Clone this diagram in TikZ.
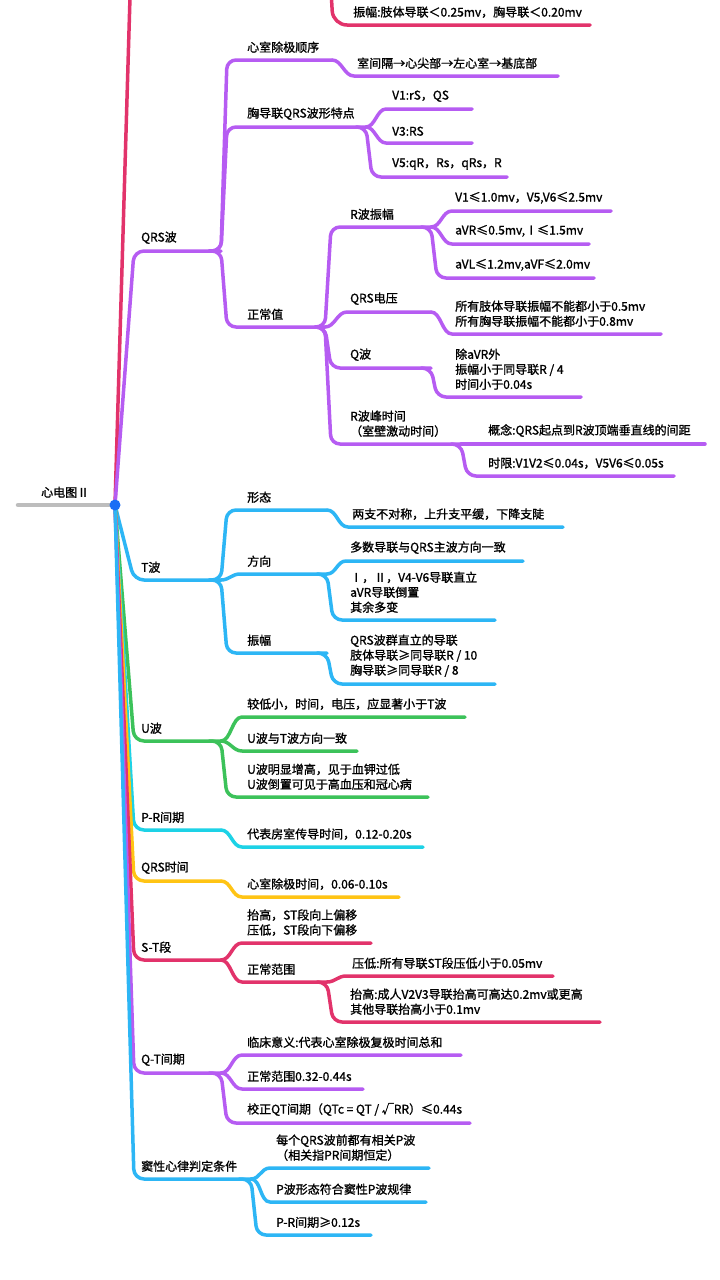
\documentclass[tikz,border=0pt]{standalone}
\usepackage{fontspec}
\newfontfamily\cjk{Noto Sans CJK SC}[FakeBold=1.2]
\usetikzlibrary{calc}
\definecolor{cR}{HTML}{E2336B}
\definecolor{cP}{HTML}{B65CF2}
\definecolor{cB}{HTML}{2DB6F5}
\definecolor{cG}{HTML}{3CC25A}
\definecolor{cC}{HTML}{1DD2E6}
\definecolor{cY}{HTML}{FFC414}
\definecolor{cGray}{HTML}{BDBDBD}
\definecolor{cDot}{HTML}{1A6EF5}
\begin{document}
\begin{tikzpicture}[x=1pt,y=-1pt,
  ln/.style={line width=3.5pt, line cap=round, line join=round},
  rc/.style={rounded corners=9pt},
  txt/.style={font=\cjk\fontsize{12}{15}\selectfont, inner sep=0pt, anchor=south west, align=left, text=black}]
\clip (0,0) rectangle (720,1280);
\fill[white] (0,0) rectangle (720,1280);
\coordinate (root) at (115,505);
% ---------- P wave (mostly above the page) ----------
\coordinate (pw) at (221,-240);
\coordinate (pwA) at (590,25);
\draw[ln,cR,rounded corners=10pt] (root) -- (137,-240) -- (pw);
\draw[ln,cR,rounded corners=14pt] (327,-80) -- (333,25) -- (pwA);
\node[txt] (tpwA) at (353,18) {振幅:肢体导联＜0.25mv，胸导联＜0.20mv};
% ---------- QRS wave ----------
\coordinate (qrs) at (221,251);
\draw[ln,cP,rounded corners=10pt] (root) -- (134,251) -- (qrs);
\node[txt] (tqrs) at (141,244) {QRS波};
\coordinate (qrsA) at (332,60);
\draw[ln,cP,rc] ([xshift=-12pt]qrs) -- (qrs) -- (227,60) -- (qrsA);
\node[txt] (tqrsA) at (247,53) {心室除极顺序};
\coordinate (qrsAa) at (558,76);
\draw[ln,cP] (qrsA) .. controls +(10,0) and +(-10,0) .. (354,76) -- (qrsAa);
\node[txt] (tqrsAa) at (357,69) {室间隔→心尖部→左心室→基底部};
\coordinate (qrsB) at (366,127);
\draw[ln,cP,rc] ([xshift=-12pt]qrs) -- (qrs) -- (227,127) -- (qrsB);
\node[txt] (tqrsB) at (247,120) {胸导联QRS波形特点};
\coordinate (qrsBa) at (472,109);
\draw[ln,cP] (qrsB) .. controls +(9,0) and +(-9,0) .. (386,109) -- (qrsBa);
\node[txt] (tqrsBa) at (392,102) {V1:rS，QS};
\coordinate (qrsBb) at (472,143);
\draw[ln,cP] (qrsB) .. controls +(9,0) and +(-9,0) .. (386,143) -- (qrsBb);
\node[txt] (tqrsBb) at (392,136) {V3:RS};
\coordinate (qrsBc) at (507,177);
\draw[ln,cP,rc] ([xshift=-10pt]qrsB) -- (qrsB) -- (372,177) -- (qrsBc);
\node[txt] (tqrsBc) at (392,170) {V5:qR，Rs，qRs，R};
\coordinate (qrsC) at (325,327);
\draw[ln,cP,rc] ([xshift=-12pt]qrs) -- (qrs) -- (227,327) -- (qrsC);
\node[txt] (tqrsC) at (247,320) {正常值};
% R amplitude
\coordinate (ra) at (431,227);
\draw[ln,cP,rc] ([xshift=-10pt]qrsC) -- (qrsC) -- (331,227) -- (ra);
\node[txt] (tra) at (350,220) {R波振幅};
\coordinate (raA) at (611,211);
\draw[ln,cP] (ra) .. controls +(10,0) and +(-10,0) .. (452,211) -- (raA);
\node[txt] (traA) at (455,204) {V1≤1.0mv，V5,V6≤2.5mv};
\coordinate (raB) at (589,244);
\draw[ln,cP] (ra) .. controls +(10,0) and +(-10,0) .. (452,244) -- (raB);
\node[txt] (traB) at (455,237) {aVR≤0.5mv,Ⅰ≤1.5mv};
\coordinate (raC) at (594,278);
\draw[ln,cP,rc] ([xshift=-10pt]ra) -- (ra) -- (437,278) -- (raC);
\node[txt] (traC) at (455,271) {aVL≤1.2mv,aVF≤2.0mv};
% QRS voltage
\coordinate (qv) at (431,312);
\draw[ln,cP] (qrsC) .. controls +(10,0) and +(-10,0) .. (347,312) -- (qv);
\node[txt] (tqv) at (350,305) {QRS电压};
\coordinate (qvA) at (661,334);
\draw[ln,cP] (qv) .. controls +(10,0) and +(-10,0) .. (452,334) -- (qvA);
\node[txt] (tqvA) at (455,327) {所有肢体导联振幅不能都小于0.5mv\\所有胸导联振幅不能都小于0.8mv};
% Q wave
\coordinate (qw) at (431,368);
\draw[ln,cP,rc] ([xshift=-10pt]qrsC) -- (qrsC) -- (331,368) -- (qw);
\node[txt] (tqw) at (350,361) {Q波};
\coordinate (qwA) at (581,397);
\draw[ln,cP,rc] ([xshift=-10pt]qw) -- (qw) -- (437,397) -- (qwA);
\node[txt] (tqwA) at (455,390) {除aVR外\\振幅小于同导联R / 4\\时间小于0.04s};
% R peak time
\coordinate (rp) at (461,444);
\draw[ln,cP,rc] ([xshift=-10pt]qrsC) -- (qrsC) -- (331,444) -- (rp);
\node[txt] (trp) at (350,437) {R波峰时间\\（室壁激动时间）};
\coordinate (rpA) at (705,444);
\draw[ln,cP] (rp) -- (rpA);
\node[txt] (trpA) at (488,437) {概念:QRS起点到R波顶端垂直线的间距};
\coordinate (rpB) at (674,476);
\draw[ln,cP,rc] ([xshift=-10pt]rp) -- (rp) -- (467,476) -- (rpB);
\node[txt] (trpB) at (488,469) {时限:V1V2≤0.04s，V5V6≤0.05s};
% ---------- T wave ----------
\coordinate (tw) at (221,580);
\draw[ln,cB,rounded corners=10pt] (root) -- (134,580) -- (tw);
\node[txt] (ttw) at (141,573) {T波};
\coordinate (twA) at (327,510);
\draw[ln,cB,rc] ([xshift=-12pt]tw) -- (tw) -- (227,510) -- (twA);
\node[txt] (ttwA) at (247,503) {形态};
\coordinate (twAa) at (563,527);
\draw[ln,cB] (twA) .. controls +(10,0) and +(-10,0) .. (348,527) -- (twAa);
\node[txt] (ttwAa) at (352,520) {两支不对称，上升支平缓，下降支陡};
\coordinate (twB) at (327,574);
\draw[ln,cB] (tw) .. controls +(8,0) and +(-8,0) .. (240,574) -- (twB);
\node[txt] (ttwB) at (247,567) {方向};
\coordinate (twBa) at (523,561);
\draw[ln,cB] (twB) .. controls +(9,0) and +(-9,0) .. (346,561) -- (twBa);
\node[txt] (ttwBa) at (350,554) {多数导联与QRS主波方向一致};
\coordinate (twBb) at (495,620);
\draw[ln,cB,rc] ([xshift=-10pt]twB) -- (twB) -- (333,620) -- (twBb);
\node[txt] (ttwBb) at (350,613) {Ⅰ，Ⅱ，V4-V6导联直立\\aVR导联倒置\\其余多变};
\coordinate (twC) at (327,653);
\draw[ln,cB,rc] ([xshift=-12pt]tw) -- (tw) -- (227,653) -- (twC);
\node[txt] (ttwC) at (247,646) {振幅};
\coordinate (twCa) at (495,684);
\draw[ln,cB,rc] ([xshift=-10pt]twC) -- (twC) -- (333,684) -- (twCa);
\node[txt] (ttwCa) at (350,677) {QRS波群直立的导联\\肢体导联≥同导联R / 10\\胸导联≥同导联R / 8};
% ---------- U wave ----------
\coordinate (uw) at (221,741);
\draw[ln,cG,rounded corners=10pt] (root) -- (134,741) -- (uw);
\node[txt] (tuw) at (141,734) {U波};
\coordinate (uwA) at (465,717);
\draw[ln,cG] (uw) .. controls +(10,0) and +(-10,0) .. (242,717) -- (uwA);
\node[txt] (tuwA) at (247,710) {较低小，时间，电压，应显著小于T波};
\coordinate (uwB) at (357,751);
\draw[ln,cG] (uw) .. controls +(9,0) and +(-9,0) .. (242,751) -- (uwB);
\node[txt] (tuwB) at (247,744) {U波与T波方向一致};
\coordinate (uwC) at (428,797);
\draw[ln,cG,rc] ([xshift=-12pt]uw) -- (uw) -- (227,797) -- (uwC);
\node[txt] (tuwC) at (247,790) {U波明显增高，见于血钾过低\\U波倒置可见于高血压和冠心病};
% ---------- P-R ----------
\coordinate (pr) at (221,830);
\draw[ln,cC,rounded corners=10pt] (root) -- (134,830) -- (pr);
\node[txt] (tpr) at (141,823) {P-R间期};
\coordinate (prA) at (423,847);
\draw[ln,cC] (pr) .. controls +(10,0) and +(-10,0) .. (242,847) -- (prA);
\node[txt] (tprA) at (247,840) {代表房室传导时间，0.12-0.20s};
% ---------- QRS time ----------
\coordinate (qt) at (221,881);
\draw[ln,cY,rounded corners=10pt] (root) -- (134,881) -- (qt);
\node[txt] (tqt) at (141,874) {QRS时间};
\coordinate (qtA) at (399,897);
\draw[ln,cY] (qt) .. controls +(10,0) and +(-10,0) .. (242,897) -- (qtA);
\node[txt] (tqtA) at (247,890) {心室除极时间，0.06-0.10s};
% ---------- S-T ----------
\coordinate (st) at (221,960);
\draw[ln,cR,rounded corners=10pt] (root) -- (134,960) -- (st);
\node[txt] (tst) at (141,953) {S-T段};
\coordinate (stA) at (371,943);
\draw[ln,cR] (st) .. controls +(10,0) and +(-10,0) .. (242,943) -- (stA);
\node[txt] (tstA) at (247,936) {抬高，ST段向上偏移\\压低，ST段向下偏移};
\coordinate (stB) at (327,982);
\draw[ln,cR] (st) .. controls +(10,0) and +(-10,0) .. (242,982) -- (stB);
\node[txt] (tstB) at (247,975) {正常范围};
\coordinate (stBa) at (553,976);
\draw[ln,cR] (stB) .. controls +(8,0) and +(-8,0) .. (346,976) -- (stBa);
\node[txt] (tstBa) at (352,969) {压低:所有导联ST段压低小于0.05mv};
\coordinate (stBb) at (600,1022);
\draw[ln,cR,rc] ([xshift=-10pt]stB) -- (stB) -- (333,1022) -- (stBb);
\node[txt] (tstBb) at (350,1015) {抬高:成人V2V3导联抬高可高达0.2mv或更高\\其他导联抬高小于0.1mv};
% ---------- Q-T ----------
\coordinate (qtI) at (221,1073);
\draw[ln,cP,rounded corners=10pt] (root) -- (134,1073) -- (qtI);
\node[txt] (tqtI) at (141,1066) {Q-T间期};
\coordinate (qtIA) at (461,1055);
\draw[ln,cP] (qtI) .. controls +(10,0) and +(-10,0) .. (242,1055) -- (qtIA);
\node[txt] (tqtIA) at (247,1048) {临床意义:代表心室除极复极时间总和};
\coordinate (qtIB) at (363,1089);
\draw[ln,cP] (qtI) .. controls +(10,0) and +(-10,0) .. (242,1089) -- (qtIB);
\node[txt] (tqtIB) at (247,1082) {正常范围0.32-0.44s};
\coordinate (qtIC) at (470,1123);
\draw[ln,cP,rc] ([xshift=-12pt]qtI) -- (qtI) -- (227,1123) -- (qtIC);
\node[txt] (tqtIC) at (247,1116) {校正QT间期（QTc = QT / √RR）≤0.44s};
% ---------- sinus rhythm ----------
\coordinate (sr) at (251,1179);
\draw[ln,cB,rounded corners=10pt] (root) -- (134,1179) -- (sr);
\node[txt] (tsr) at (141,1172) {窦性心律判定条件};
\coordinate (srA) at (429,1168);
\draw[ln,cB] (sr) .. controls +(9,0) and +(-9,0) .. (270,1168) -- (srA);
\node[txt] (tsrA) at (276,1161) {每个QRS波前都有相关P波\\（相关指PR间期恒定）};
\coordinate (srB) at (426,1202);
\draw[ln,cB] (sr) .. controls +(10,0) and +(-10,0) .. (270,1202) -- (srB);
\node[txt] (tsrB) at (276,1195) {P波形态符合窦性P波规律};
\coordinate (srC) at (371,1235);
\draw[ln,cB,rc] ([xshift=-12pt]sr) -- (sr) -- (257,1235) -- (srC);
\node[txt] (tsrC) at (276,1228) {P-R间期≥0.12s};
% ---------- root ----------
\coordinate (rootL) at (18,505);
\draw[line width=4.5pt, cGray, line cap=round] (rootL) -- (root);
\node[txt] (troot) at (41,498) {心电图Ⅱ};
\fill[cDot] (root) circle (5.5);
\end{tikzpicture}
\end{document}
